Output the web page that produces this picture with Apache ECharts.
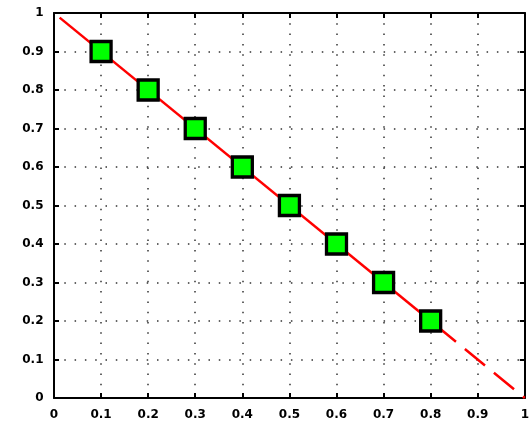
<!DOCTYPE html>
<html>
<head>
<meta charset="utf-8">
<script src="https://cdn.jsdelivr.net/npm/echarts@6/dist/echarts.min.js"></script>
<style>html,body{margin:0;padding:0;background:#fff}#c{width:532px;height:422px}</style>
</head>
<body>
<div id="c"></div>
<script>
const pointX = [0.1, 0.2, 0.3, 0.4, 0.5, 0.6, 0.7, 0.8];
const pointY = [0.9, 0.8, 0.7, 0.6, 0.5, 0.4, 0.3, 0.2];
const solidLineX = [0.012, 0.8];
const solidLineY = [0.988, 0.2];
const dashLineX = [0.811, 1];
const dashLineY = [0.189, 0];

const font = { fontFamily: 'DejaVu Sans', fontSize: 12, fontWeight: 'bold', color: '#000' };
const split = { show: true, lineStyle: { color: '#333', width: 1.5, type: [1.5, 8.8] } };
const axLine = { show: true, onZero: false, lineStyle: { color: '#000', width: 2 } };
const tick = { show: true, inside: true, length: 5, lineStyle: { color: '#000', width: 2 } };

const chart = echarts.init(document.getElementById('c'), null, { renderer: 'canvas' });
chart.setOption({
  animation: false,
  grid: { left: 54, right: 6, top: 13, bottom: 24 },
  xAxis: [
    { type: 'value', min: 0, max: 1, interval: 0.1, position: 'bottom',
      axisLine: axLine, axisTick: tick, splitLine: split,
      axisLabel: Object.assign({ margin: 11 }, font) },
    { type: 'value', min: 0, max: 1, interval: 0.1, position: 'top',
      axisLine: axLine, axisTick: tick, splitLine: { show: false }, axisLabel: { show: false } }
  ],
  yAxis: [
    { type: 'value', min: 0, max: 1, interval: 0.1, position: 'left',
      axisLine: axLine, axisTick: tick, splitLine: split,
      axisLabel: Object.assign({ margin: 10.5 }, font) },
    { type: 'value', min: 0, max: 1, interval: 0.1, position: 'right',
      axisLine: axLine, axisTick: tick, splitLine: { show: false }, axisLabel: { show: false } }
  ],
  series: [
    { type: 'line', data: solidLineX.map((x, i) => [x, solidLineY[i]]), showSymbol: false,
      lineStyle: { color: '#ff0000', width: 2.5 }, z: 2 },
    { type: 'line', data: dashLineX.map((x, i) => [x, dashLineY[i]]), showSymbol: false,
      lineStyle: { color: '#ff0000', width: 2.5, type: [26, 11.5] }, z: 2 },
    { type: 'scatter', data: pointX.map((x, i) => [x, pointY[i]]), symbol: 'rect', symbolSize: 20,
      itemStyle: { color: '#00ff00', borderColor: '#000', borderWidth: 3.3, opacity: 1 }, z: 3 }
  ]
});
</script>
</body>
</html>
